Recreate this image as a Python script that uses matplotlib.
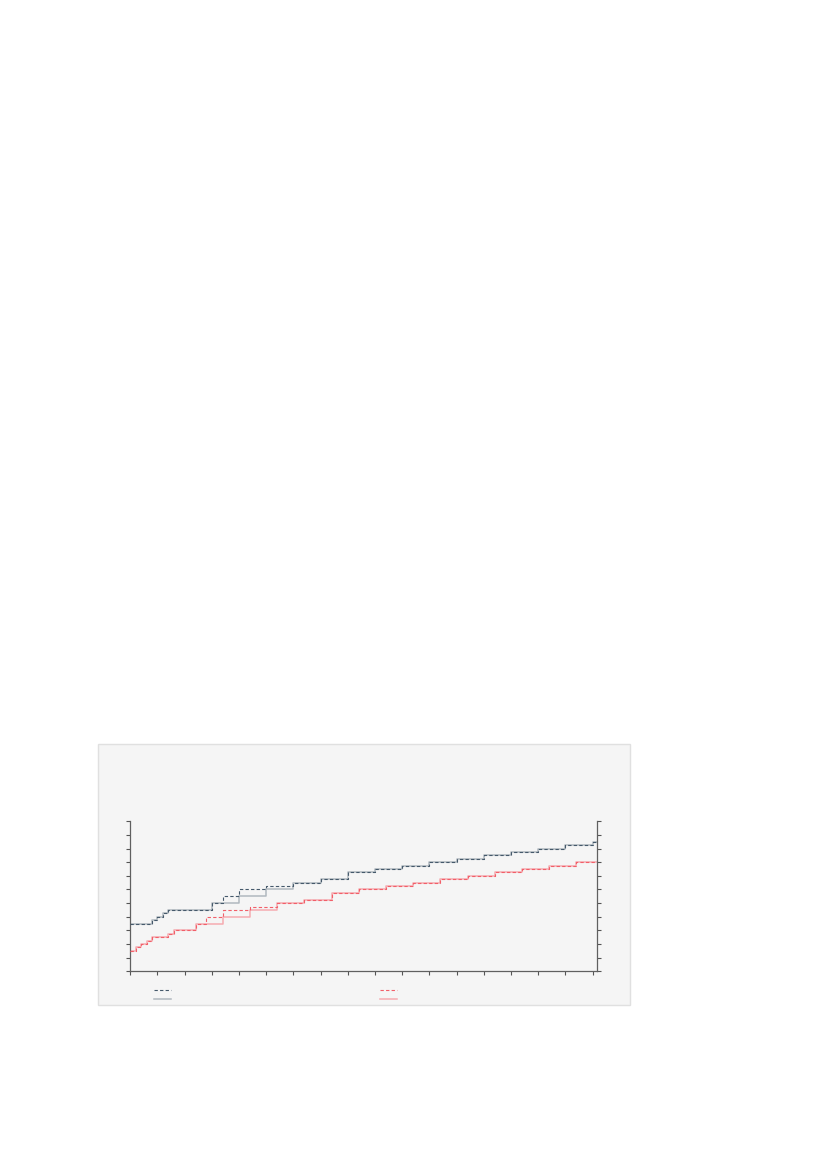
import numpy as np
import matplotlib.pyplot as plt
from matplotlib.patches import Rectangle
from matplotlib.lines import Line2D

# step series: change points (x) and levels (y)
x_end = 17.17

blue_dash_x = [0, 0.8, 1.0, 1.2, 1.4, 3.0, 3.4, 4.0, 5.0, 6.0, 7.0, 8.0, 9.0, 10.0, 11.0,
               12.0, 13.0, 14.0, 15.0, 16.0, 17.0]
blue_dash_y = [3.5, 3.75, 4.0, 4.25, 4.5, 5.0, 5.5, 6.0, 6.25, 6.5, 6.75, 7.25, 7.5, 7.75, 8.0,
               8.25, 8.5, 8.75, 9.0, 9.25, 9.5]

gray_solid_x = [0, 0.8, 1.0, 1.2, 1.4, 3.0, 4.0, 5.0, 6.0, 7.0, 8.0, 9.0, 10.0, 11.0,
                12.0, 13.0, 14.0, 15.0, 16.0, 17.0]
gray_solid_y = [3.5, 3.75, 4.0, 4.25, 4.5, 5.0, 5.5, 6.0, 6.5, 6.75, 7.25, 7.5, 7.75, 8.0,
                8.25, 8.5, 8.75, 9.0, 9.25, 9.5]

red_dash_x = [0, 0.2, 0.4, 0.6, 0.8, 1.4, 1.6, 2.4, 2.8, 3.4, 4.4, 5.4, 6.4, 7.4, 8.4,
              9.4, 10.4, 11.4, 12.4, 13.4, 14.4, 15.4, 16.4]
red_dash_y = [1.5, 1.75, 2.0, 2.25, 2.5, 2.75, 3.0, 3.5, 4.0, 4.5, 4.75, 5.0, 5.25, 5.75, 6.0,
              6.25, 6.5, 6.75, 7.0, 7.25, 7.5, 7.75, 8.0]

pink_solid_x = [0, 0.2, 0.4, 0.6, 0.8, 1.4, 1.6, 2.4, 3.4, 4.4, 5.4, 6.4, 7.4, 8.4,
                9.4, 10.4, 11.4, 12.4, 13.4, 14.4, 15.4, 16.4]
pink_solid_y = [1.5, 1.75, 2.0, 2.25, 2.5, 2.75, 3.0, 3.5, 4.0, 4.5, 5.0, 5.25, 5.75, 6.0,
                6.25, 6.5, 6.75, 7.0, 7.25, 7.5, 7.75, 8.0]

c_blue = '#45596b'
c_gray = '#b0b8bf'
c_red = '#f25f69'
c_pink = '#f6abb0'
panel_bg = '#f5f5f5'

fig = plt.figure(figsize=(8.27, 11.7), dpi=100)
W, H = 827, 1170

# grey panel behind the chart
fig.add_artist(Rectangle((98 / W, 1 - 1005 / H), (630 - 98) / W, (1005 - 744) / H,
                         transform=fig.transFigure, facecolor=panel_bg,
                         edgecolor='#e0e0e0', linewidth=1, zorder=0))

ax = fig.add_axes([130.3 / W, 1 - 971.3 / H, (597.3 - 130.3) / W, 150 / H])
ax.set_facecolor(panel_bg)


def stepline(xs, ys, **kw):
    xs = list(xs) + [x_end]
    ys = list(ys) + [ys[-1]]
    ax.step(xs, ys, where='post', **kw)


stepline(gray_solid_x, gray_solid_y, color=c_gray, lw=1.1, zorder=2)
stepline(pink_solid_x, pink_solid_y, color=c_pink, lw=1.1, zorder=2)
stepline(blue_dash_x, blue_dash_y, color=c_blue, lw=0.8, ls=(0, (3, 2)), zorder=3)
stepline(red_dash_x, red_dash_y, color=c_red, lw=0.8, ls=(0, (3, 2)), zorder=3)

ax.set_xlim(0, x_end)
ax.set_ylim(0, 11)
ax.set_xticks(np.arange(0, 18))
ax.set_yticks(np.arange(0, 12))
ax.tick_params(axis='both', length=3, width=0.8, color='#555555',
               labelleft=False, labelbottom=False)
ax.tick_params(axis='y', right=True, labelright=False)
for s in ['left', 'right', 'bottom']:
    ax.spines[s].set_color('#606060')
    ax.spines[s].set_linewidth(0.9)
ax.spines['top'].set_visible(False)

# legend keys (no text in the reference)
def key(x0, y, color, ls, lw):
    fig.add_artist(Line2D([x0 / W, (x0 + 17) / W], [1 - y / H, 1 - y / H],
                          transform=fig.transFigure, color=color, ls=ls, lw=lw))


key(154, 990, c_blue, (0, (3, 2)), 0.8)
key(154, 999, c_gray, '-', 1.1)
key(380, 990, c_red, (0, (3, 2)), 0.8)
key(380, 999, c_pink, '-', 1.1)

fig.savefig('out.png', dpi=100, facecolor='white')
